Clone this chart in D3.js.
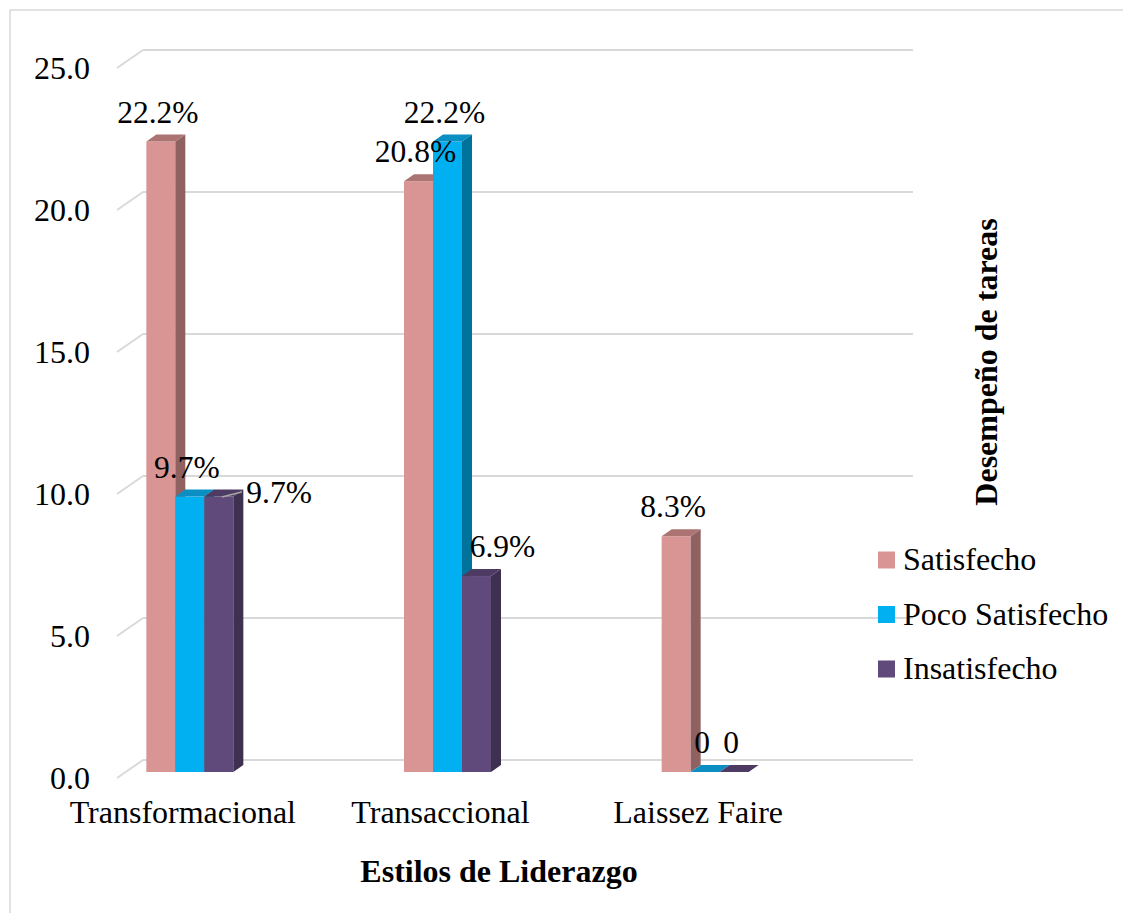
<!DOCTYPE html>
<html>
<head>
<meta charset="utf-8">
<script src="https://cdn.jsdelivr.net/npm/d3@7"></script>
<style>
  html, body { margin: 0; padding: 0; background: #fff; }
  svg { display: block; }
</style>
</head>
<body>
<svg id="chart" width="1123" height="913"></svg>
<script>
// ---- data ----
const categories = ["Transformacional", "Transaccional", "Laissez Faire"];
const seriesNames = ["Satisfecho", "Poco Satisfecho", "Insatisfecho"];
const satisfecho = [22.2, 20.8, 8.3];
const pocoSatisfecho = [9.7, 22.2, 0];
const insatisfecho = [9.7, 6.9, 0];
const yTicks = [0, 5, 10, 15, 20, 25];
const xTitle = "Estilos de Liderazgo";
const yTitle = "Desempeño de tareas";

const seriesValues = [satisfecho, pocoSatisfecho, insatisfecho];

// ---- styles ----
const FONT = "Liberation Serif";
const colors = {
  "Satisfecho":      { front: "#d99594", side: "#8f6160", top: "#ab7473" },
  "Poco Satisfecho": { front: "#00b0f0", side: "#00739d", top: "#0b8fc3" },
  "Insatisfecho":    { front: "#604a7b", side: "#3e304f", top: "#4d3b64" }
};
const gridColor = "#d9d9d9";
const DX = 10, DY = -7;
const FLOOR_DX = 26, FLOOR_DY = 18;

const svg = d3.select("#chart");

svg.append("rect").attr("x", 10).attr("y", 10).attr("width", 1140).attr("height", 940)
  .attr("fill", "none").attr("stroke", gridColor).attr("stroke-width", 1.5);

const yBack = d3.scaleLinear().domain([0, 25]).range([760, 50]);
const yFront = d3.scaleLinear().domain([0, 25]).range([772, 62]);
const x = d3.scaleBand().domain(categories).range([61, 834]);
const groupW = 87;
const xs = d3.scaleBand().domain(seriesNames).range([0, groupW]);
const bw = xs.bandwidth();
const groupLeft = c => x(c) + x.bandwidth() / 2 - groupW / 2;

const grid = svg.append("g");
yTicks.forEach(t => {
  const y = yBack(t);
  grid.append("line").attr("x1", 143).attr("x2", 913).attr("y1", y).attr("y2", y)
    .attr("stroke", gridColor).attr("stroke-width", 2);
  grid.append("line").attr("x1", 143 - FLOOR_DX).attr("y1", y + FLOOR_DY)
    .attr("x2", 143).attr("y2", y)
    .attr("stroke", gridColor).attr("stroke-width", 2);
});

svg.append("g").selectAll("text").data(yTicks).join("text")
  .attr("x", 90).attr("y", d => yBack(d) + 29)
  .attr("text-anchor", "end")
  .attr("font-family", FONT).attr("font-size", 32).attr("fill", "#000")
  .text(d => d3.format(".1f")(d));

const bars = [];
categories.forEach((c, ci) => {
  seriesNames.forEach((s, si) => {
    bars.push({ cat: c, ser: s, v: seriesValues[si][ci] });
  });
});

const gBars = svg.append("g");
bars.forEach(b => {
  const x0 = groupLeft(b.cat) + xs(b.ser);
  const x1 = x0 + bw;
  const yb = yFront(0), yt = yFront(b.v);
  const col = colors[b.ser];
  const g = gBars.append("g");
  if (b.v > 0) {
    g.append("rect").attr("x", x0).attr("y", yt).attr("width", bw).attr("height", yb - yt)
      .attr("fill", col.front);
    g.append("path").attr("d", `M${x1},${yb} L${x1 + DX},${yb + DY} L${x1 + DX},${yt + DY} L${x1},${yt} Z`)
      .attr("fill", col.side);
  }
  g.append("path").attr("d", `M${x0},${yt} L${x1},${yt} L${x1 + DX},${yt + DY} L${x0 + DX},${yt + DY} Z`)
    .attr("fill", col.top);
});

const labelPlacement = {
  "Transformacional|Insatisfecho": { anchor: "start", dx: bw / 2 + 13, dy: 25.5, leader: true },
  "Transaccional|Insatisfecho": { dx: 26 }
};
const gLab = svg.append("g");
bars.forEach(b => {
  const cx = groupLeft(b.cat) + xs(b.ser) + bw / 2;
  const p = labelPlacement[b.cat + "|" + b.ser] || {};
  const tx = cx + (p.dx !== undefined ? p.dx : -3);
  const ty = yFront(b.v) - 19 + (p.dy || 0);
  if (p.leader) {
    gLab.append("line").attr("x1", cx + 3).attr("y1", yFront(b.v) + 0.5)
      .attr("x2", cx + 23).attr("y2", yFront(b.v) - 4.5)
      .attr("stroke", "#a6a6a6").attr("stroke-width", 1.5);
  }
  gLab.append("text").attr("x", tx).attr("y", ty)
    .attr("text-anchor", p.anchor || "middle")
    .attr("font-family", FONT).attr("font-size", 31.5).attr("fill", "#000")
    .text(b.v === 0 ? "0" : d3.format(".1f")(b.v) + "%");
});

svg.append("g").selectAll("text").data(categories).join("text")
  .attr("x", d => x(d) + x.bandwidth() / 2 - 7).attr("y", 823)
  .attr("text-anchor", "middle")
  .attr("font-family", FONT).attr("font-size", 32).attr("fill", "#000")
  .text(d => d);

svg.append("text").attr("x", 499).attr("y", 882).attr("text-anchor", "middle")
  .attr("font-family", FONT).attr("font-size", 32).attr("font-weight", "bold")
  .text(xTitle);

svg.append("text").attr("transform", "translate(997,362) rotate(-90)")
  .attr("text-anchor", "middle")
  .attr("font-family", FONT).attr("font-size", 32).attr("font-weight", "bold")
  .text(yTitle);

const legend = svg.append("g").selectAll("g").data(seriesNames).join("g")
  .attr("transform", (d, i) => `translate(878,${560 + i * 54.5})`);
legend.append("rect").attr("x", 0).attr("y", -8.5).attr("width", 17).attr("height", 17)
  .attr("fill", d => colors[d].front);
legend.append("text").attr("x", 25).attr("y", 10)
  .attr("font-family", FONT).attr("font-size", 32).attr("fill", "#000")
  .text(d => d);
</script>
</body>
</html>
